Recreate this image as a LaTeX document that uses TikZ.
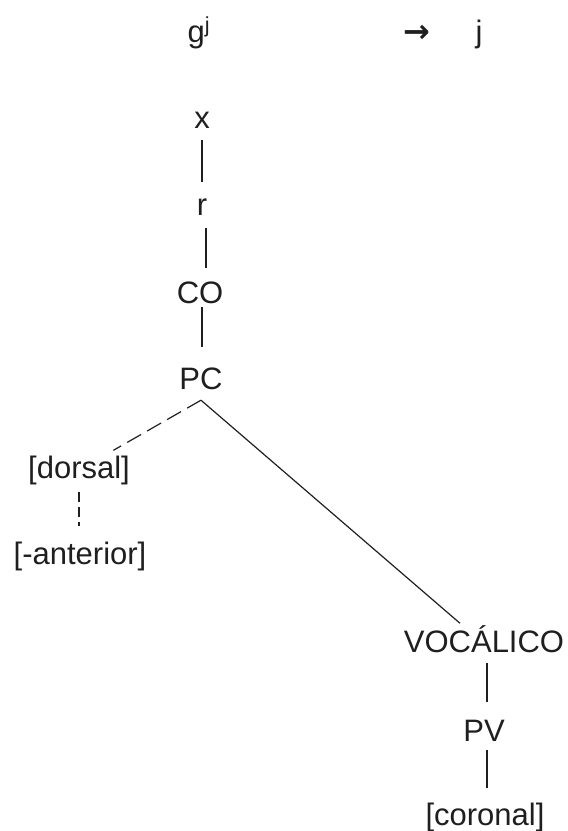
\documentclass[tikz,border=0pt]{standalone}
\usepackage{fontspec}
\setmainfont{Liberation Sans}
\newfontfamily\symfont{DejaVu Sans}
\usetikzlibrary{positioning}

\begin{document}
\begin{tikzpicture}[
  x=1pt, y=-1pt,
  lab/.style={inner sep=0pt, anchor=base, text height=22pt, text depth=6pt,
              text=black!88, font=\fontsize{31}{36}\selectfont},
  tline/.style={draw, line width=1.2pt, black!88},
  dline/.style={draw, line width=1.2pt, black!88, dash pattern=on 16pt off 7pt}
]
  \useasboundingbox (0,0) rectangle (568,831);

  % rule
  \node[lab] (gj)    at (199,42)  {g\textsuperscript{j}};
  \node[lab] (arrow) at (417,42)  {\symfont\bfseries\fontsize{32}{36}\selectfont →};
  \node[lab] (jout)  at (479,42)  {j};

  % tree
  \node[lab] (x)        at (202,128) {x};
  \node[lab] (r)        at (202,215) {r};
  \node[lab] (co)       at (200,303) {CO};
  \node[lab] (pc)       at (201,389) {PC};
  \node[lab] (dorsal)   at (79,478)  {[dorsal]};
  \node[lab] (anterior) at (80,564)  {[-anterior]};
  \node[lab] (voc)      at (484,652) {VOCÁLICO};
  \node[lab] (pv)       at (484,741) {PV};
  \node[lab] (coronal)  at (485,825) {[coronal]};

  \coordinate (apex) at ([yshift=-5pt]pc.south);

  \draw[tline, shorten <=6pt, shorten >=11pt] (x.south) -- (x.south |- r.north);
  \draw[tline, shorten <=7pt, shorten >=13pt] ([xshift=4pt]r.south) -- ([xshift=4pt]r.south |- co.north);
  \draw[tline, shorten <=-2pt, shorten >=20pt] ([xshift=2pt]co.south) -- ([xshift=2pt]co.south |- pc.north);
  \draw[dline, shorten >=11pt] (apex) -- (dorsal);
  \draw[tline, shorten >=10pt] (apex) -- (voc);
  \draw[tline, dash pattern=on 10pt off 5pt, shorten <=8pt, shorten >=16pt] (dorsal.south) -- (dorsal.south |- anterior.north);
  \draw[tline, shorten <=5pt, shorten >=17pt] ([xshift=3pt]voc.south) -- ([xshift=3pt]voc.south |- pv.north);
  \draw[tline, shorten <=3pt, shorten >=15pt] ([xshift=3pt]pv.south) -- ([xshift=3pt]pv.south |- coronal.north);
\end{tikzpicture}
\end{document}
